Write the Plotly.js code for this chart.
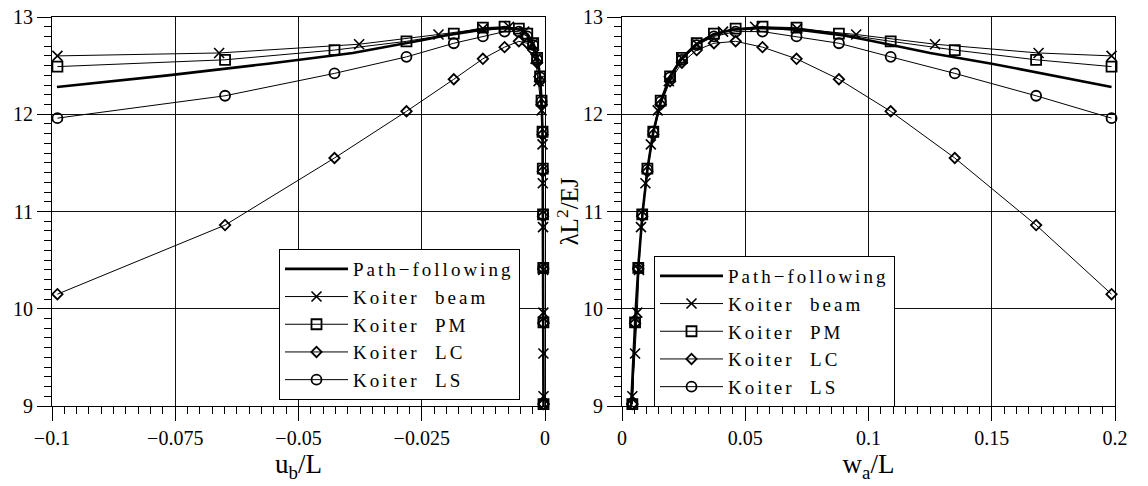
<!DOCTYPE html>
<html>
<head>
<meta charset="utf-8">
<script src="https://cdn.plot.ly/plotly-3.0.1.min.js"></script>
<style>
  html, body { margin: 0; padding: 0; background: #fff; }
  #chart { width: 1148px; height: 486px; }
  .legendtext,
  #chart .infolayer g[class^="legend"] text { letter-spacing: 3px; }
</style>
</head>
<body>
<div id="chart"></div>
<script>
// Path-following reference solution: mid-span deflection w_a/L, end shortening u_b/L, load λL²/EJ
const wPath = [0.0037, 0.0046, 0.0056, 0.0068, 0.0084, 0.0104, 0.0127, 0.0157, 0.0195, 0.024, 0.030, 0.037, 0.045, 0.055, 0.065, 0.075, 0.090, 0.100, 0.125, 0.150, 0.175, 0.1986];
const uPath = [-0.0003, -0.00031, -0.00033, -0.00036, -0.0004, -0.00045, -0.0005, -0.0007, -0.001, -0.0015, -0.0023, -0.0035, -0.0051, -0.0076, -0.0106, -0.014, -0.0202, -0.025, -0.039, -0.0562, -0.0765, -0.099];
const lamPath = [9.00, 9.50, 10.00, 10.50, 11.00, 11.45, 11.82, 12.13, 12.39, 12.57, 12.72, 12.82, 12.87, 12.885, 12.88, 12.86, 12.81, 12.76, 12.63, 12.52, 12.40, 12.28];

// Koiter beam model
const wBeam = [0.0042, 0.0053, 0.0062, 0.0069, 0.0077, 0.0095, 0.0117, 0.0145, 0.0190, 0.0245, 0.0305, 0.0410, 0.0540, 0.0710, 0.0950, 0.1270, 0.1690, 0.1986];
const uBeam = [-0.0003, -0.00032, -0.00034, -0.00036, -0.0004, -0.00045, -0.0005, -0.0007, -0.0013, -0.0019, -0.0026, -0.0042, -0.0073, -0.0126, -0.0216, -0.0377, -0.0661, -0.0989];
const lamBeam = [9.10, 9.54, 9.96, 10.40, 10.84, 11.29, 11.69, 12.04, 12.34, 12.57, 12.72, 12.85, 12.90, 12.88, 12.82, 12.72, 12.63, 12.60];

// Koiter shell-type analyses (PM, LC, LS) share the same displacement stations
const wKoiter = [0.0042, 0.0053, 0.0066, 0.0082, 0.0103, 0.0127, 0.0157, 0.0195, 0.0243, 0.0303, 0.0373, 0.0461, 0.0570, 0.0708, 0.0880, 0.1090, 0.1350, 0.1680, 0.1986];
const uKoiter = [-0.0003, -0.00032, -0.00035, -0.0004, -0.00045, -0.0005, -0.0007, -0.001, -0.0016, -0.0024, -0.0036, -0.0053, -0.0082, -0.0126, -0.0185, -0.0281, -0.0427, -0.0649, -0.0989];
const lamPM = [9.02, 9.86, 10.42, 10.97, 11.44, 11.82, 12.14, 12.39, 12.58, 12.73, 12.83, 12.88, 12.90, 12.89, 12.83, 12.75, 12.66, 12.56, 12.49];
const lamLC = [9.02, 9.85, 10.41, 10.95, 11.41, 11.79, 12.10, 12.34, 12.53, 12.66, 12.73, 12.75, 12.69, 12.57, 12.36, 12.03, 11.55, 10.86, 10.15];
const lamLS = [9.02, 9.86, 10.42, 10.97, 11.43, 11.82, 12.13, 12.38, 12.56, 12.71, 12.80, 12.85, 12.85, 12.80, 12.73, 12.59, 12.42, 12.19, 11.96];

const seriesNames = ['Path\u2212following', 'Koiter  beam', 'Koiter  PM', 'Koiter  LC', 'Koiter  LS'];

const FONT = '"Liberation Serif", "DejaVu Serif", serif';
const INK = '#000';

function series(xs, ys, name, axisX, axisY, legendId, style) {
  const t = {
    x: xs, y: ys, name: name, xaxis: axisX, yaxis: axisY, legend: legendId,
    type: 'scatter', cliponaxis: false,
    line: { color: INK, width: style.lw }
  };
  if (style.symbol) {
    t.mode = 'lines+markers';
    t.marker = { symbol: style.symbol, size: style.size, color: INK,
                 line: { color: INK, width: style.mlw } };
  } else {
    t.mode = 'lines';
  }
  return t;
}

const styles = [
  { lw: 2.6 },
  { lw: 1, symbol: 'x-thin-open', size: 10, mlw: 1.6 },
  { lw: 1, symbol: 'square-open', size: 10, mlw: 1.8 },
  { lw: 1, symbol: 'diamond-open', size: 8, mlw: 1.8 },
  { lw: 1, symbol: 'circle-open', size: 10, mlw: 1.8 }
];

const leftX = [uPath, uBeam, uKoiter, uKoiter, uKoiter];
const rightX = [wPath, wBeam, wKoiter, wKoiter, wKoiter];
const lamAll = [lamPath, lamBeam, lamPM, lamLC, lamLS];

const data = [];
for (let i = 0; i < 5; i++) {
  data.push(series(leftX[i], lamAll[i], seriesNames[i], 'x', 'y', 'legend', styles[i]));
}
for (let i = 0; i < 5; i++) {
  data.push(series(rightX[i], lamAll[i], seriesNames[i], 'x2', 'y2', 'legend2', styles[i]));
}

const W = 1148, H = 486;
const M = { l: 0, r: 0, t: 17, b: 80 };
const plotH = H - M.t - M.b;

function axisBase(extra) {
  return Object.assign({
    showgrid: true, gridcolor: '#111', gridwidth: 1,
    zeroline: false,
    showline: true, mirror: true, linecolor: INK, linewidth: 1,
    ticks: 'outside', ticklen: 14, tickwidth: 1, tickcolor: INK,
    tickfont: { family: FONT, size: 20, color: INK },
    automargin: false
  }, extra);
}

function minorTicks(step, start) {
  return { ticks: 'outside', ticklen: 7, dtick: step, tick0: start,
           tickcolor: INK, tickwidth: 1, showgrid: false };
}

const legendStyle = {
  bgcolor: '#fff', bordercolor: INK, borderwidth: 1,
  font: { family: FONT, size: 19, color: INK },
  xanchor: 'left', yanchor: 'top',
  itemwidth: 63, tracegroupgap: 0,
  itemclick: false, itemdoubleclick: false
};

const layout = {
  width: W, height: H,
  margin: M,
  paper_bgcolor: '#fff', plot_bgcolor: '#fff',
  font: { family: FONT, color: INK },
  showlegend: true,
  xaxis: axisBase({
    domain: [52 / W, 545 / W], anchor: 'y',
    range: [-0.1, 0], tick0: 0, dtick: 0.025,
    minor: minorTicks(0.0025, 0),
    title: { text: 'u<sub>b</sub>/L', font: { family: FONT, size: 27, color: INK }, standoff: 6 }
  }),
  yaxis: axisBase({
    domain: [0, 1], anchor: 'x',
    range: [9, 13], dtick: 1,
    minor: minorTicks(0.1, 9)
  }),
  xaxis2: axisBase({
    domain: [622 / W, 1115 / W], anchor: 'y2',
    range: [0, 0.2], tick0: 0, dtick: 0.05,
    minor: minorTicks(0.005, 0),
    title: { text: 'w<sub>a</sub>/L', font: { family: FONT, size: 27, color: INK }, standoff: 6 }
  }),
  yaxis2: axisBase({
    domain: [0, 1], anchor: 'x2',
    range: [9, 13], dtick: 1,
    minor: minorTicks(0.1, 9)
  }),
  annotations: [{
    text: '\u03bbL<sup>2</sup>/EJ',
    xref: 'paper', yref: 'paper',
    x: 567 / W, y: 0.5, xanchor: 'center', yanchor: 'middle',
    textangle: -90, showarrow: false,
    font: { family: FONT, size: 25, color: INK }
  }],
  legend: Object.assign({}, legendStyle, { x: 279 / W, y: (H - M.b - 249) / plotH, entrywidth: 166 }),
  legend2: Object.assign({}, legendStyle, { x: 654 / W, y: (H - M.b - 256) / plotH, entrywidth: 161 })
};

Plotly.newPlot('chart', data, layout, { displayModeBar: false, staticPlot: true });
</script>
</body>
</html>
